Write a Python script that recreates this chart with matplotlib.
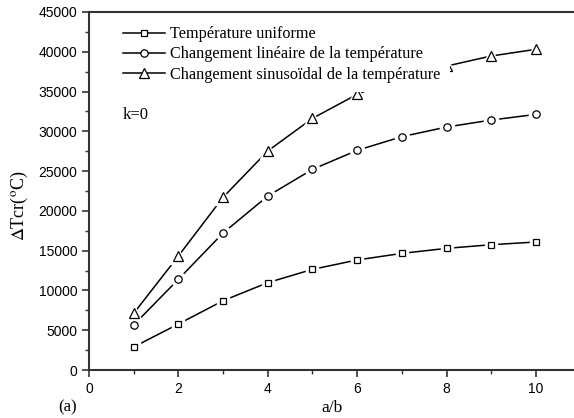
import numpy as np
import matplotlib.pyplot as plt
from matplotlib.lines import Line2D
from matplotlib.ticker import MultipleLocator

# critical temperature difference vs aspect ratio a/b, k=0
ab = [1, 2, 3, 4, 5, 6, 7, 8, 9, 10]
uniforme = [2900, 5780, 8710, 10980, 12650, 13830, 14660, 15290, 15750, 16090]
lineaire = [5660, 11400, 17220, 21870, 25220, 27610, 29330, 30540, 31420, 32130]
sinusoidal = [7120, 14330, 21710, 27530, 31630, 34650, 36900, 38200, 39470, 40310]

labels = ["Température uniforme",
          "Changement linéaire de la température",
          "Changement sinusoïdal de la température"]

serif = "Liberation Serif"
sans = "Liberation Sans"
plt.rcParams["mathtext.fontset"] = "stix"

fig = plt.figure(figsize=(5.74, 4.18), dpi=100)
ax = fig.add_axes([0.155, 0.1148, 0.8566, 0.8565])

series = [(uniforme, "s", 4.3), (lineaire, "o", 5.3), (sinusoidal, "^", 7)]
handles = []
for (vals, m, ms), lab in zip(series, labels):
    ax.plot(ab, vals, color="k", lw=1.1, zorder=2)
    # white halo so the line stops short of each marker
    ax.plot(ab, vals, ls="none", marker=m, ms=ms + 5, mfc="white", mec="white", zorder=3)
    ax.plot(ab, vals, ls="none", marker=m, ms=ms, mfc="none", mec="k", mew=0.9, zorder=4)
    handles.append(Line2D([], [], color="k", lw=1.1, marker=m, ms=ms, mfc="white", mec="k", mew=0.9))

ax.set_xlim(0, 11)
ax.set_ylim(0, 45000)
ax.xaxis.set_major_locator(MultipleLocator(2))
ax.xaxis.set_minor_locator(MultipleLocator(1))
ax.yaxis.set_major_locator(MultipleLocator(5000))
ax.yaxis.set_minor_locator(MultipleLocator(2500))
ax.tick_params(which="major", length=5, width=1.2, color="#333333", pad=3.5, labelsize=10)
ax.tick_params(which="minor", length=3, width=1.0, color="#333333")
for t in ax.get_xticklabels() + ax.get_yticklabels():
    t.set_fontfamily(sans)

for side in ["left", "bottom", "top"]:
    ax.spines[side].set_linewidth(1.5)
    ax.spines[side].set_color("#333333")
    ax.spines[side].set_zorder(6)
ax.spines["right"].set_visible(False)

leg = ax.legend(handles, labels, loc="upper left", bbox_to_anchor=(0.049, 0.987),
                prop={"family": serif, "size": 11.7}, handlelength=2.6, handletextpad=0.3,
                labelspacing=0.25, borderpad=0.6, borderaxespad=0, frameon=True,
                fancybox=False)
leg.get_frame().set_edgecolor("none")
leg.get_frame().set_facecolor("white")
leg.get_frame().set_alpha(1)
leg.set_zorder(5)

ax.text(0.069, 0.712, "k=0", transform=ax.transAxes, family=serif, fontsize=12,
        va="center", ha="left")

fig.text(0.033, 0.507, r"$\Delta$Tcr($^\mathrm{o}$C)", rotation=90, family=serif, fontsize=13,
         ha="center", va="center")
fig.text(0.578, 0.024, "a/b", family=serif, fontsize=12.5, ha="center", va="center")
fig.text(0.118, 0.026, "(a)", family=serif, fontsize=12, ha="center", va="center")

fig.savefig("out.png", dpi=100)
